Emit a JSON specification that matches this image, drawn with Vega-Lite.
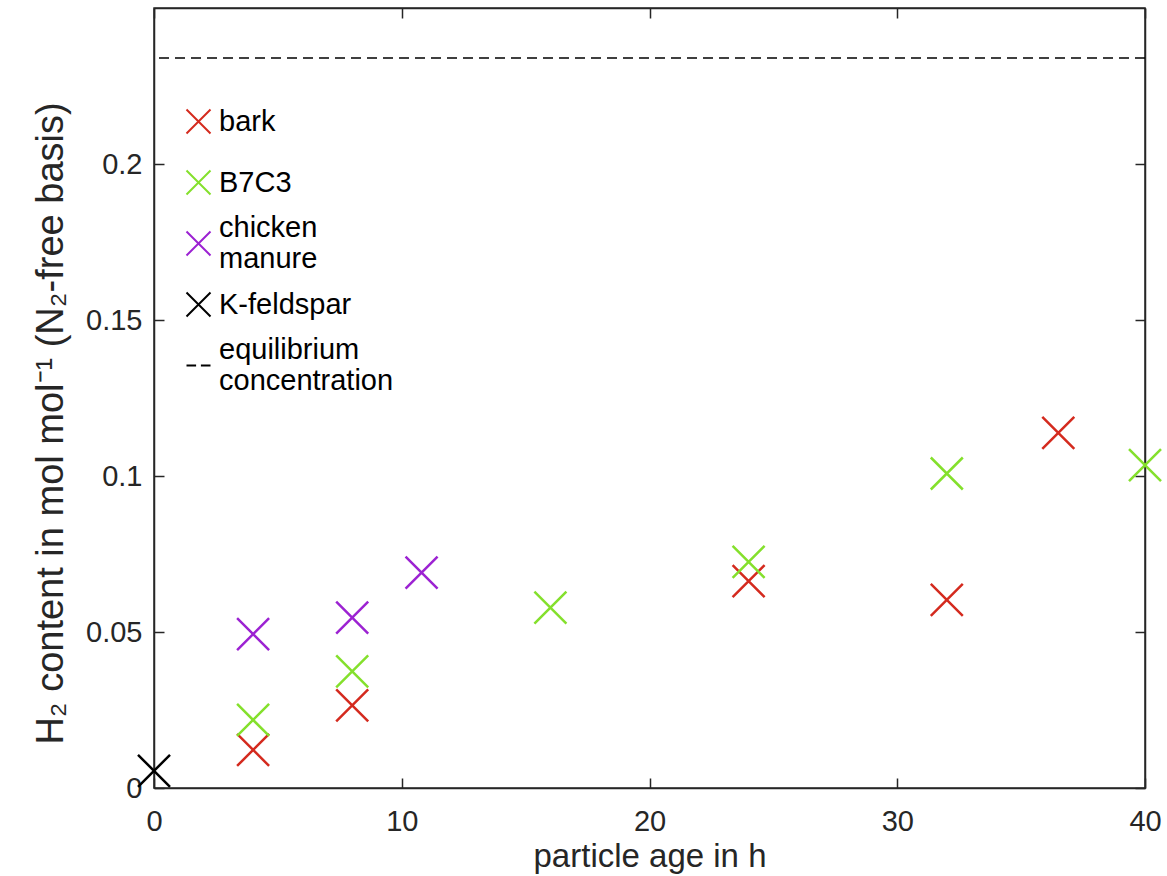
{
  "$schema": "https://vega.github.io/schema/vega-lite/v6.json",
  "width": 991,
  "height": 780,
  "autosize": {"type": "none"},
  "padding": {"left": 154, "top": 8, "right": 22, "bottom": 88},
  "background": "white",
  "config": {
    "view": {"stroke": "#262626", "strokeWidth": 1.5},
    "axis": {
      "grid": false,
      "domainColor": "#262626",
      "domainWidth": 1.5,
      "tickColor": "#262626",
      "tickWidth": 1.5,
      "tickSize": -10,
      "labelFlush": false,
      "labelFont": "Liberation Sans",
      "labelFontSize": 29,
      "labelColor": "#262626",
      "titleFont": "Liberation Sans",
      "titleFontSize": 33,
      "titleFontWeight": "normal",
      "titleColor": "#262626"
    }
  },
  "data": {
    "values": [
      {"series": "bark", "age": 4, "h2": 0.0122},
      {"series": "bark", "age": 8, "h2": 0.0265},
      {"series": "bark", "age": 24, "h2": 0.0663},
      {"series": "bark", "age": 32, "h2": 0.0603},
      {"series": "bark", "age": 36.5, "h2": 0.1138},
      {"series": "B7C3", "age": 4, "h2": 0.0218},
      {"series": "B7C3", "age": 8, "h2": 0.0374},
      {"series": "B7C3", "age": 16, "h2": 0.0578},
      {"series": "B7C3", "age": 24, "h2": 0.0725},
      {"series": "B7C3", "age": 32, "h2": 0.1008},
      {"series": "B7C3", "age": 40, "h2": 0.1035},
      {"series": "chicken manure", "age": 4, "h2": 0.0493},
      {"series": "chicken manure", "age": 8, "h2": 0.0546},
      {"series": "chicken manure", "age": 10.8, "h2": 0.069},
      {"series": "K-feldspar", "age": 0, "h2": 0.0055}
    ]
  },
  "layer": [
    {
      "mark": {"type": "point", "filled": false, "strokeWidth": 2.5, "size": 1024, "opacity": 1},
      "encoding": {
        "x": {
          "field": "age", "type": "quantitative",
          "scale": {"domain": [0, 40], "nice": false, "zero": false},
          "axis": {"orient": "bottom", "values": [0, 10, 20, 30, 40], "title": "particle age in h", "labelPadding": 29, "titlePadding": 4}
        },
        "y": {
          "field": "h2", "type": "quantitative",
          "scale": {"domain": [0, 0.25], "nice": false, "zero": false},
          "axis": {"orient": "left", "values": [0, 0.05, 0.1, 0.15, 0.2], "labelExpr": "'' + datum.value", "title": "H₂ content in mol mol⁻¹ (N₂-free basis)", "titleFontSize": 38, "titleY": 415, "labelPadding": 22, "titlePadding": 15}
        },
        "color": {
          "field": "series", "type": "nominal",
          "scale": {
            "domain": ["bark", "B7C3", "chicken manure", "K-feldspar", "equilibrium concentration"],
            "range": ["#d42a1e", "#84e02c", "#9c22d2", "#000000", "#000000"]
          },
          "legend": {
            "title": null, "orient": "none", "legendX": 30, "legendY": 99, "padding": 0,
            "gridAlign": "all", "rowPadding": 0,
            "labelFont": "Liberation Sans", "labelFontSize": 29, "labelColor": "#000000",
            "labelOffset": 6, "labelLimit": 400,
            "labelBaseline": {"expr": "datum.label == 'chicken manure' || datum.label == 'equilibrium concentration' ? 'line-bottom' : 'middle'"},
            "symbolSize": 576, "symbolStrokeWidth": 2,
            "labelExpr": "datum.label == 'chicken manure' ? ['chicken', 'manure'] : datum.label == 'equilibrium concentration' ? ['equilibrium', 'concentration'] : datum.label"
          }
        },
        "shape": {
          "field": "series", "type": "nominal",
          "scale": {
            "domain": ["bark", "B7C3", "chicken manure", "K-feldspar", "equilibrium concentration"],
            "range": ["M-1,-1L1,1M1,-1L-1,1", "M-1,-1L1,1M1,-1L-1,1", "M-1,-1L1,1M1,-1L-1,1", "M-1,-1L1,1M1,-1L-1,1", "M-1,0L-0.2,0M0.2,0L1,0"]
          },
          "legend": {
            "title": null, "orient": "none", "legendX": 30, "legendY": 99, "padding": 0,
            "gridAlign": "all", "rowPadding": 0,
            "labelFont": "Liberation Sans", "labelFontSize": 29, "labelColor": "#000000",
            "labelOffset": 6, "labelLimit": 400,
            "labelBaseline": {"expr": "datum.label == 'chicken manure' || datum.label == 'equilibrium concentration' ? 'line-bottom' : 'middle'"},
            "symbolSize": 576, "symbolStrokeWidth": 2,
            "labelExpr": "datum.label == 'chicken manure' ? ['chicken', 'manure'] : datum.label == 'equilibrium concentration' ? ['equilibrium', 'concentration'] : datum.label"
          }
        }
      }
    },
    {
      "data": {"values": [{"eq": 0.234}]},
      "mark": {"type": "rule", "color": "#000000", "strokeWidth": 1.5, "strokeDash": [10, 6]},
      "encoding": {
        "y": {
          "field": "eq", "type": "quantitative",
          "axis": {"orient": "right", "values": [0, 0.05, 0.1, 0.15, 0.2], "labels": false, "title": null}
        }
      }
    },
    {
      "mark": {"type": "point", "opacity": 0},
      "encoding": {
        "x": {
          "field": "age", "type": "quantitative",
          "axis": {"orient": "top", "values": [0, 10, 20, 30, 40], "labels": false, "title": null}
        },
        "y": {"field": "h2", "type": "quantitative", "axis": null}
      }
    }
  ],
  "resolve": {"axis": {"x": "independent", "y": "independent"}}
}
